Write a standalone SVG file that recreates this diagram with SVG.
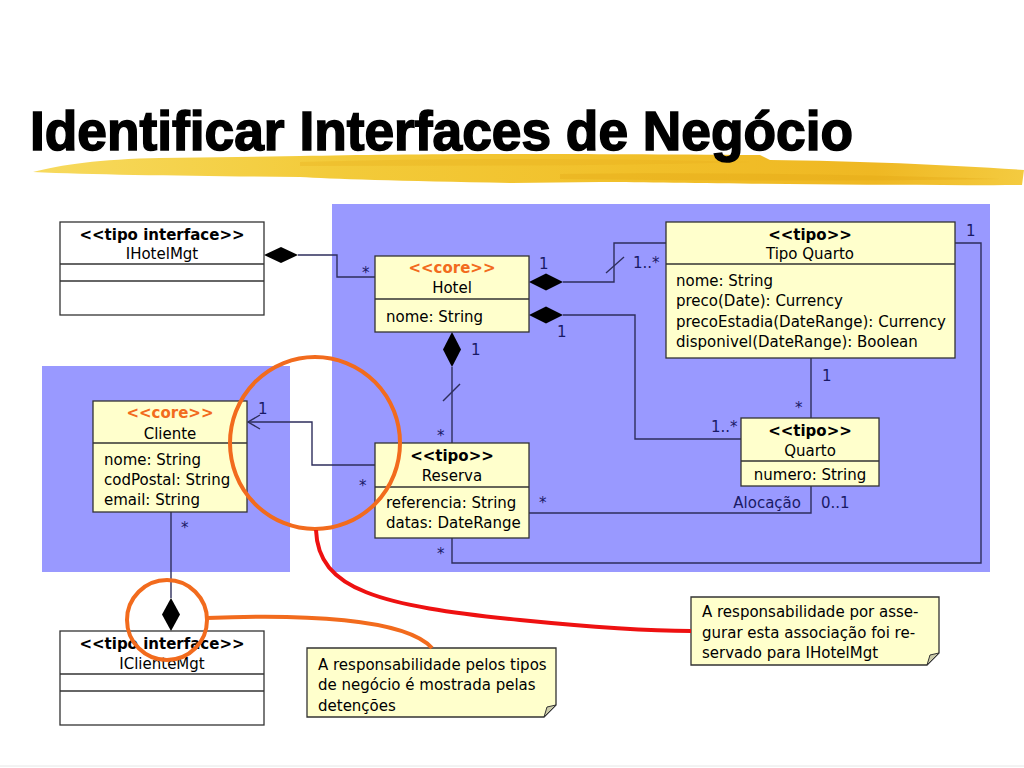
<svg xmlns="http://www.w3.org/2000/svg" width="1024" height="768" viewBox="0 0 1024 768">
<defs>
<style>
.t{font-family:"DejaVu Sans","Liberation Sans",sans-serif;font-size:15px;fill:#000}
.c{text-anchor:middle}
.b{font-weight:bold}
.core{fill:#F26B1D;font-weight:bold}
.m{font-family:"DejaVu Sans","Liberation Sans",sans-serif;font-size:15px;fill:#1A1A66}
.box{fill:#FFFFCC;stroke:#333333;stroke-width:1.3}
.ibox{fill:#FFFFFF;stroke:#333333;stroke-width:1.3}
.ln{fill:none;stroke:#2E2E5C;stroke-width:1.4}
.dia{fill:#000;stroke:none}
.panel{fill:#9999FF}
.note{fill:#FFFFCC;stroke:#333333;stroke-width:1.3}
</style>
<linearGradient id="brush" x1="0" y1="0" x2="1" y2="0">
<stop offset="0" stop-color="#F7DA5E"/>
<stop offset="0.3" stop-color="#F3CB3A"/>
<stop offset="0.6" stop-color="#F1C02A"/>
<stop offset="0.85" stop-color="#EFB823"/>
<stop offset="1" stop-color="#F4CB40"/>
</linearGradient>
</defs>
<rect width="1024" height="768" fill="#FFFFFF"/>
<line x1="0" y1="766" x2="1024" y2="766" stroke="#E6E6E6" stroke-width="1"/>

<g id="title">
<path d="M33,172 C60,165 100,159 160,158 L300,156 C400,154 500,153 760,155 L770,160 C860,161 950,165 1024,170 L1022,185 C900,186 700,183 600,182 L512,183 C400,181 330,179 300,177 C200,176 100,175 33,172 Z" fill="url(#brush)"/>
<path d="M300,162 C450,158 600,158 750,162 C600,166 450,166 300,166 Z" fill="#E8B01C" opacity="0.35"/>
<path d="M560,174 C700,172 850,174 1000,179 C850,181 700,181 560,179 Z" fill="#E3A515" opacity="0.35"/>
<text x="30" y="150" font-family="Liberation Sans,Arial,sans-serif" font-weight="bold" font-size="56" textLength="823" lengthAdjust="spacingAndGlyphs" fill="#000" stroke="#000" stroke-width="1.6">Identificar Interfaces de Negócio</text>
</g>

<g id="panels">
<rect class="panel" x="332" y="204" width="658" height="368"/>
<rect class="panel" x="42" y="366" width="248" height="206"/>
</g>

<g id="connectors">
<path class="ln" d="M298,255 H337 V277 H375"/>
<path class="ln" d="M563,282 H614 V243 H666"/>
<path class="ln" d="M606,273 L624,257"/>
<path class="ln" d="M563,315 H635 V439 H741"/>
<path class="ln" d="M452,367 V443"/>
<path class="ln" d="M443,401 L460,384"/>
<path class="ln" d="M955,243 H981 V563 H452 V538"/>
<path class="ln" d="M811,358 V418"/>
<path class="ln" d="M529,513 H811 V486"/>
<path class="ln" d="M375,465 H312 V422 H248"/>
<path class="ln" d="M260,415 L248,422 L260,429"/>
<path class="ln" d="M171,512 V598"/>
<polygon class="dia" points="264,255 281,247 298,255 281,263"/>
<polygon class="dia" points="529,282 546,273.5 563,282 546,290.5"/>
<polygon class="dia" points="529,315 546,306.5 563,315 546,323.5"/>
<polygon class="dia" points="452,332 443,349.5 452,367 461,349.5"/>
<polygon class="dia" points="171,598 162,614.5 171,631 180,614.5"/>
<text class="m" x="362" y="278">*</text>
<text class="m" x="539" y="269">1</text>
<text class="m" x="633" y="268">1..*</text>
<text class="m" x="557" y="337">1</text>
<text class="m" x="471" y="355">1</text>
<text class="m" x="437" y="441">*</text>
<text class="m" x="966" y="236">1</text>
<text class="m" x="822" y="381">1</text>
<text class="m" x="795" y="413">*</text>
<text class="m" x="711" y="432">1..*</text>
<text class="m" x="539" y="508">*</text>
<text class="m" x="801" y="508" text-anchor="end">Alocação</text>
<text class="m" x="821" y="508">0..1</text>
<text class="m" x="258" y="414">1</text>
<text class="m" x="359" y="491">*</text>
<text class="m" x="181" y="533">*</text>
<text class="m" x="437" y="559">*</text>
</g>

<g id="IHotelMgt">
<rect class="ibox" x="60" y="222" width="204" height="93"/>
<line x1="60" y1="264" x2="264" y2="264" stroke="#333" stroke-width="1.3"/>
<line x1="60" y1="281" x2="264" y2="281" stroke="#333" stroke-width="1.3"/>
<text class="t c b" x="162" y="240">&lt;&lt;tipo interface&gt;&gt;</text>
<text class="t c" x="162" y="259">IHotelMgt</text>
</g>

<g id="Hotel">
<rect class="box" x="375" y="256" width="154" height="76"/>
<line x1="375" y1="299" x2="529" y2="299" stroke="#333" stroke-width="1.3"/>
<text class="t c core" x="452" y="273">&lt;&lt;core&gt;&gt;</text>
<text class="t c" x="452" y="293">Hotel</text>
<text class="t" x="386" y="322">nome: String</text>
</g>

<g id="TipoQuarto">
<rect class="box" x="666" y="222" width="289" height="136"/>
<line x1="666" y1="264" x2="955" y2="264" stroke="#333" stroke-width="1.3"/>
<text class="t c b" x="810" y="240">&lt;&lt;tipo&gt;&gt;</text>
<text class="t c" x="810" y="259">Tipo Quarto</text>
<text class="t" x="676" y="286">nome: String</text>
<text class="t" x="676" y="306">preco(Date): Currency</text>
<text class="t" x="676" y="327">precoEstadia(DateRange): Currency</text>
<text class="t" x="676" y="347">disponivel(DateRange): Boolean</text>
</g>

<g id="Quarto">
<rect class="box" x="741" y="418" width="138" height="68"/>
<line x1="741" y1="461" x2="879" y2="461" stroke="#333" stroke-width="1.3"/>
<text class="t c b" x="810" y="436">&lt;&lt;tipo&gt;&gt;</text>
<text class="t c" x="810" y="456">Quarto</text>
<text class="t c" x="810" y="480">numero: String</text>
</g>

<g id="Reserva">
<rect class="box" x="375" y="443" width="154" height="95"/>
<line x1="375" y1="487" x2="529" y2="487" stroke="#333" stroke-width="1.3"/>
<text class="t c b" x="452" y="461">&lt;&lt;tipo&gt;&gt;</text>
<text class="t c" x="452" y="481">Reserva</text>
<text class="t" x="386" y="508">referencia: String</text>
<text class="t" x="386" y="528">datas: DateRange</text>
</g>

<g id="Cliente">
<rect class="box" x="93" y="401" width="154" height="111"/>
<line x1="93" y1="443" x2="247" y2="443" stroke="#333" stroke-width="1.3"/>
<text class="t c core" x="170" y="418">&lt;&lt;core&gt;&gt;</text>
<text class="t c" x="170" y="439">Cliente</text>
<text class="t" x="104" y="465">nome: String</text>
<text class="t" x="104" y="485">codPostal: String</text>
<text class="t" x="104" y="505">email: String</text>
</g>

<g id="IClienteMgt">
<rect class="ibox" x="60" y="631" width="204" height="94"/>
<line x1="60" y1="674" x2="264" y2="674" stroke="#333" stroke-width="1.3"/>
<line x1="60" y1="691" x2="264" y2="691" stroke="#333" stroke-width="1.3"/>
<text class="t c b" x="162" y="649">&lt;&lt;tipo interface&gt;&gt;</text>
<text class="t c" x="162" y="669">IClienteMgt</text>
</g>

<g id="note1">
<path class="note" d="M307,648 H556 V705 L544,717 H307 Z"/>
<path d="M556,705 L544,717 L547,707 Z" fill="#CCCCAA" stroke="#333" stroke-width="1"/>
<text class="t" x="318" y="670">A responsabilidade pelos tipos</text>
<text class="t" x="318" y="690">de negócio é mostrada pelas</text>
<text class="t" x="318" y="711">detenções</text>
</g>

<g id="note2">
<path class="note" d="M691,597 H939 V653 L927,665 H691 Z"/>
<path d="M939,653 L927,665 L930,655 Z" fill="#CCCCAA" stroke="#333" stroke-width="1"/>
<text class="t" x="702" y="617">A responsabilidade por asse-</text>
<text class="t" x="702" y="638">gurar esta associação foi re-</text>
<text class="t" x="702" y="658">servado para IHotelMgt</text>
</g>

<g id="highlights">
<ellipse cx="315" cy="443" rx="85" ry="86" fill="none" stroke="#F26B1D" stroke-width="4"/>
<circle cx="167" cy="620" r="40" fill="none" stroke="#F26B1D" stroke-width="4"/>
<path d="M207,618 C300,614 405,618 432,648" fill="none" stroke="#F26B1D" stroke-width="4"/>
<path d="M316,530 C318,590 380,606 520,620 C600,628 650,631 691,631" fill="none" stroke="#EE1111" stroke-width="4"/>
</g>
</svg>
